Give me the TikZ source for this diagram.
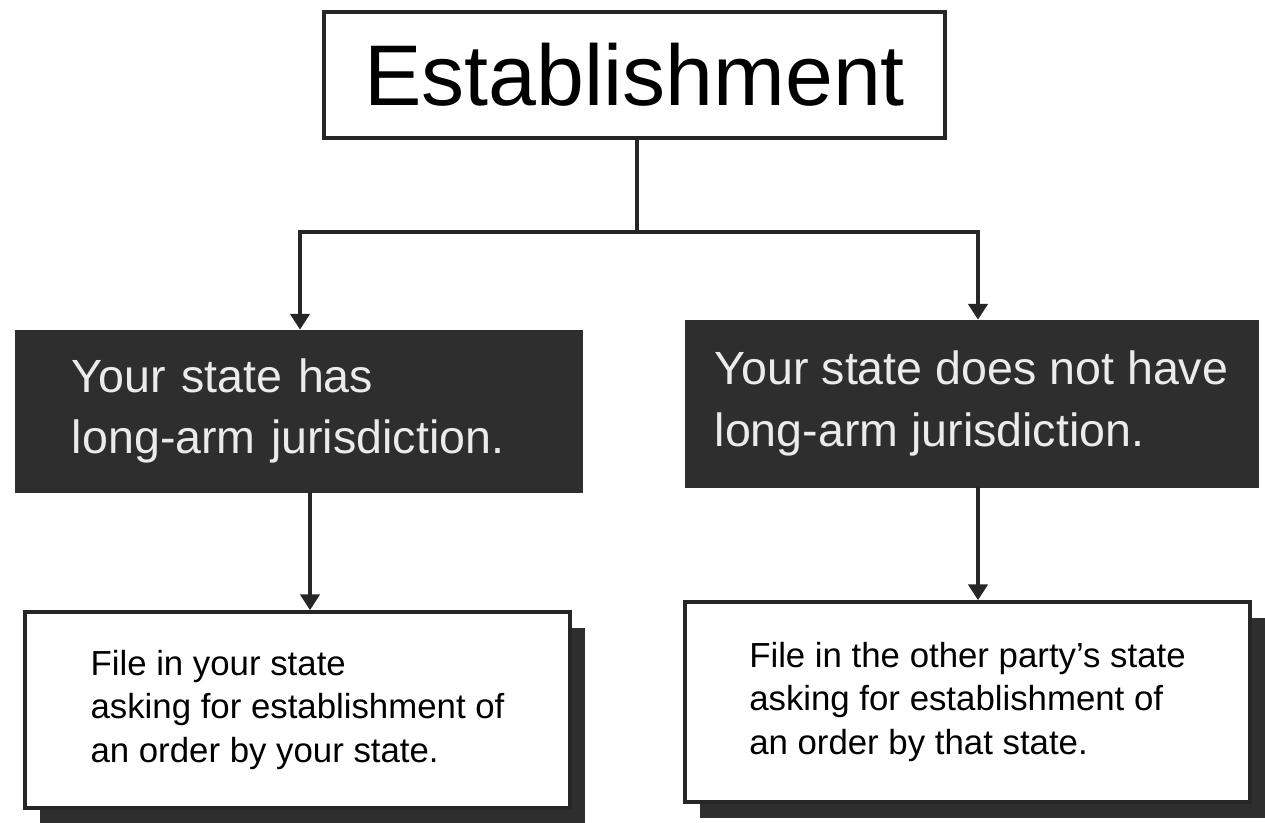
\documentclass[tikz,border=0pt]{standalone}
\usepackage{fontspec}
\setmainfont{Liberation Sans}
\usetikzlibrary{arrows.meta,shadows}
\tikzset{
  headbox/.style={draw=black!85, line width=2.1pt, fill=white, minimum width=12.42cm, minimum height=2.52cm, font=\fontsize{49}{59}\selectfont},
  darkbox/.style={fill=black!82, draw=black!82, text=white!92!black, align=left, font=\fontsize{26.5}{35}\selectfont},
  notebox/.style={draw=black!85, line width=2.1pt, fill=white, align=left, font=\fontsize{19.8}{25}\selectfont,
    drop shadow={shadow xshift=0.3cm, shadow yshift=-0.32cm, fill=black!82, opacity=1}},
  link/.style={line width=2pt, draw=black!85},
  linkarrow/.style={link, -{Triangle[width=11pt,length=9pt]}},
}
\begin{document}
\begin{tikzpicture}
\useasboundingbox (0,0) rectangle (25.3,16.44);
\node[headbox] (est) at (12.69,14.94) {Establishment};
\node[darkbox, minimum width=11.34cm, minimum height=3.24cm, text width=9.06cm] (has) at (5.97,8.22) {Your state has\\long-arm jurisdiction.};
\node[darkbox, minimum width=11.46cm, minimum height=3.34cm] (hasnot) at (19.43,8.37) {Your state does not have\\long-arm jurisdiction.};
\node[notebox, minimum width=10.9cm, minimum height=3.92cm] (filehere) at (5.95,2.24) {File in your state\\asking for establishment of\\an order by your state.};
\node[notebox, minimum width=11.3cm, minimum height=4.0cm] (filethere) at (19.35,2.40) {File in the other party's state\\asking for establishment of\\an order by that state.};
\coordinate (split) at (12.74,11.8);
\draw[link] (est.south -| split) -- (split);
\draw[linkarrow] (split) -| ([xshift=0.03cm]has.north);
\draw[linkarrow] (split) -| ([xshift=0.13cm]hasnot.north);
\draw[linkarrow] ([xshift=0.23cm]has.south) -- ([xshift=0.23cm]has.south |- filehere.north);
\draw[linkarrow] ([xshift=0.13cm]hasnot.south) -- ([xshift=0.13cm]hasnot.south |- filethere.north);
\end{tikzpicture}
\end{document}
